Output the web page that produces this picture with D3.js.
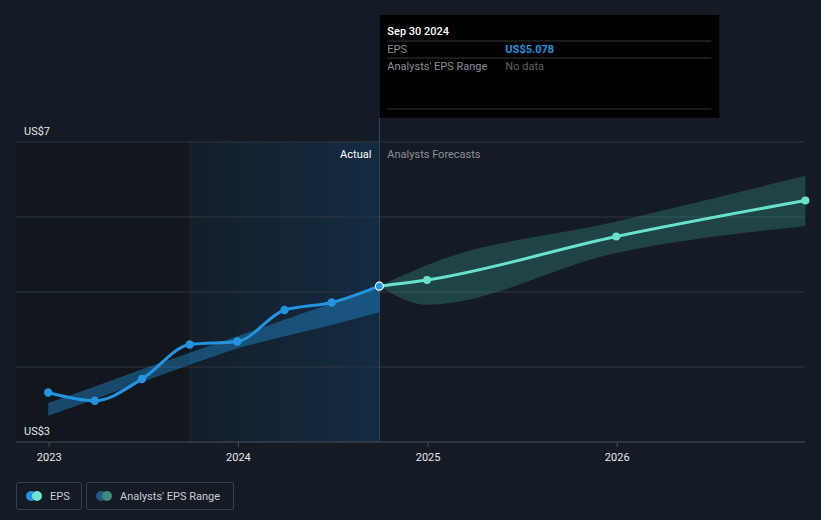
<!DOCTYPE html>
<html><head><meta charset="utf-8">
<script src="https://cdn.jsdelivr.net/npm/d3@7"></script>
<style>
html,body{margin:0;padding:0;background:#151b24;}
svg{display:block;font-family:Roboto,"Noto Sans",sans-serif;}
</style></head>
<body><svg id="c" width="821" height="520"></svg>
<script>
// ---- data ----
const actualDates = ["2022-12-31","2023-03-31","2023-06-30","2023-09-30","2023-12-31","2024-03-31","2024-06-30","2024-09-30"];
const actualEPS   = [3.66, 3.55, 3.84, 4.30, 4.34, 4.76, 4.86, 5.078];
const pastRangeLow  = [3.35, 3.57, 3.80, 4.03, 4.25, 4.41, 4.56, 4.73];
const pastRangeHigh = [3.52, 3.74, 3.97, 4.19, 4.41, 4.63, 4.85, 5.05];
const forecastDates = ["2024-09-30","2024-12-31","2025-12-31","2026-12-31"];
const forecastEPS   = [5.078, 5.16, 5.74, 6.22];
const forecastLow   = [5.078, 4.83, 5.52, 5.88];
const forecastHigh  = [5.078, 5.36, 5.94, 6.55];
const yTicks = [3, 4, 5, 6, 7];
const yLabels = ["US$3", "US$7"];
const xTickYears = [2023, 2024, 2025, 2026];
const tooltipDate = "Sep 30 2024";
const tooltipEPS = "US$5.078";

const parse = d3.timeParse("%Y-%m-%d");
const svg = d3.select("#c");
const x = d3.scaleTime().domain([new Date(2023,0,1), new Date(2027,0,1)]).range([48.7, 805.9]);
const y = d3.scaleLinear().domain([3,7]).range([442,142]);
const left = 16, right = 805;
const now = parse("2024-09-30");
const oneYearAgo = parse("2023-09-30");

const defs = svg.append("defs");
const g1 = defs.append("linearGradient").attr("id","pastGrad").attr("x1","0").attr("x2","1").attr("y1","0").attr("y2","0");
g1.append("stop").attr("offset","0").attr("stop-color","#141e2a");
g1.append("stop").attr("offset","1").attr("stop-color","#132b42");

// shaded regions
svg.append("rect").attr("x",left).attr("y",y(7)).attr("width",x(oneYearAgo)-left).attr("height",y(3)-y(7)).attr("fill","#12161d");
svg.append("rect").attr("x",x(oneYearAgo)).attr("y",y(7)).attr("width",x(now)-x(oneYearAgo)).attr("height",y(3)-y(7)).attr("fill","url(#pastGrad)");
svg.append("line").attr("x1",x(oneYearAgo)+0.5).attr("x2",x(oneYearAgo)+0.5).attr("y1",y(7)).attr("y2",y(3)).attr("stroke","#1a2a3a").attr("stroke-width",1);

// gridlines
svg.append("g").selectAll("line").data(yTicks).join("line")
  .attr("x1",left).attr("x2",right).attr("y1",d=>y(d)).attr("y2",d=>y(d))
  .attr("stroke",d=>d===3?"#4a5058":"#2f3640").attr("stroke-width",1);

// x axis
const xAxis = d3.axisBottom(x).tickValues(xTickYears.map(v=>new Date(v,0,1))).tickFormat(d3.timeFormat("%Y")).tickSize(5).tickPadding(4);
const gx = svg.append("g").attr("transform",`translate(0,${y(3)})`).call(xAxis);
gx.select(".domain").remove();
gx.selectAll(".tick line").attr("stroke","#4a5058");
gx.selectAll(".tick text").attr("fill","#e6e6e6").attr("font-size",11).attr("font-family","Roboto,sans-serif").attr("dy","0.95em");

// y labels
svg.append("g").selectAll("text").data(yLabels).join("text")
  .attr("x",24).attr("y",(d,i)=>y(i===0?3:7)-7).attr("fill","#e6e6e6").attr("font-size",11).text(d=>d);

// now line
svg.append("line").attr("x1",x(now)).attr("x2",x(now)).attr("y1",15).attr("y2",y(3)).attr("stroke","#2c4a66").attr("stroke-width",1);

// Actual / Forecast labels
svg.append("text").attr("x",x(now)-8).attr("y",158).attr("text-anchor","end").attr("fill","#ffffff").attr("font-size",11).text("Actual");
svg.append("text").attr("x",x(now)+8).attr("y",158).attr("fill","#8a9098").attr("font-size",11).text("Analysts Forecasts");

// past range band
const pastData = actualDates.map((d,i)=>({d:parse(d),lo:pastRangeLow[i],hi:pastRangeHigh[i],v:actualEPS[i]}));
svg.append("path").datum(pastData)
  .attr("d",d3.area().x(d=>x(d.d)).y0(d=>y(d.lo)).y1(d=>y(d.hi)))
  .attr("fill","#2394df").attr("fill-opacity",0.4);

// forecast band
const fData = forecastDates.map((d,i)=>({d:parse(d),lo:forecastLow[i],hi:forecastHigh[i],v:forecastEPS[i]}));
svg.append("path").datum(fData)
  .attr("d",d3.area().curve(d3.curveMonotoneX).x(d=>x(d.d)).y0(d=>y(d.lo)).y1(d=>y(d.hi)))
  .attr("fill","#3aa193").attr("fill-opacity",0.3);

// forecast line
svg.append("path").datum(fData)
  .attr("d",d3.line().curve(d3.curveMonotoneX).x(d=>x(d.d)).y(d=>y(d.v)))
  .attr("fill","none").attr("stroke","#67e3cd").attr("stroke-width",3);
svg.append("g").selectAll("circle").data(fData.slice(1)).join("circle")
  .attr("cx",d=>x(d.d)).attr("cy",d=>y(d.v)).attr("r",4).attr("fill","#67e3cd");

// actual line
svg.append("path").datum(pastData)
  .attr("d",d3.line().curve(d3.curveMonotoneX).x(d=>x(d.d)).y(d=>y(d.v)))
  .attr("fill","none").attr("stroke","#2394df").attr("stroke-width",3);
svg.append("g").selectAll("circle").data(pastData.slice(0,-1)).join("circle")
  .attr("cx",d=>x(d.d)).attr("cy",d=>y(d.v)).attr("r",4.2).attr("fill","#2394df");
const last = pastData[pastData.length-1];
svg.append("circle").attr("cx",x(last.d)).attr("cy",y(last.v)).attr("r",4).attr("fill","#2394df").attr("stroke","#ffffff").attr("stroke-width",1.2);

// tooltip
const tt = svg.append("g").attr("transform",`translate(${x(now)},15)`);
tt.append("rect").attr("width",340).attr("height",103).attr("fill","#000000");
tt.append("text").attr("x",8).attr("y",20).attr("fill","#ffffff").attr("font-size",11).attr("font-weight",500).text(tooltipDate);
[26,43,94].forEach(yy=>tt.append("line").attr("x1",8).attr("x2",332).attr("y1",yy).attr("y2",yy).attr("stroke","#333638"));
tt.append("text").attr("x",8).attr("y",38).attr("fill","#8a8f96").attr("font-size",11).text("EPS");
tt.append("text").attr("x",126).attr("y",38).attr("fill","#2394df").attr("font-size",11).attr("font-weight",700).text(tooltipEPS);
tt.append("text").attr("x",8).attr("y",55).attr("fill","#8a8f96").attr("font-size",11).text("Analysts' EPS Range");
tt.append("text").attr("x",126).attr("y",55).attr("fill","#5c6168").attr("font-size",11).text("No data");

// legend
const legend = [{label:"EPS",c1:"#2394df",c2:"#6de3d1",x:16,w:65},{label:"Analysts' EPS Range",c1:"#1f5a85",c2:"#3d8a80",x:86,w:147}];
const lg = svg.append("g").selectAll("g").data(legend).join("g").attr("transform",d=>`translate(${d.x},482)`);
lg.append("rect").attr("x",0.5).attr("y",0.5).attr("width",d=>d.w).attr("height",27).attr("rx",2).attr("fill","none").attr("stroke","#3a4049");
lg.append("circle").attr("cx",15).attr("cy",14).attr("r",5).attr("fill",d=>d.c1);
lg.append("circle").attr("cx",21).attr("cy",14).attr("r",5).attr("fill",d=>d.c2);
lg.append("text").attr("x",34).attr("y",18).attr("fill","#c8cbcf").attr("font-size",11).text(d=>d.label);
</script></body></html>
